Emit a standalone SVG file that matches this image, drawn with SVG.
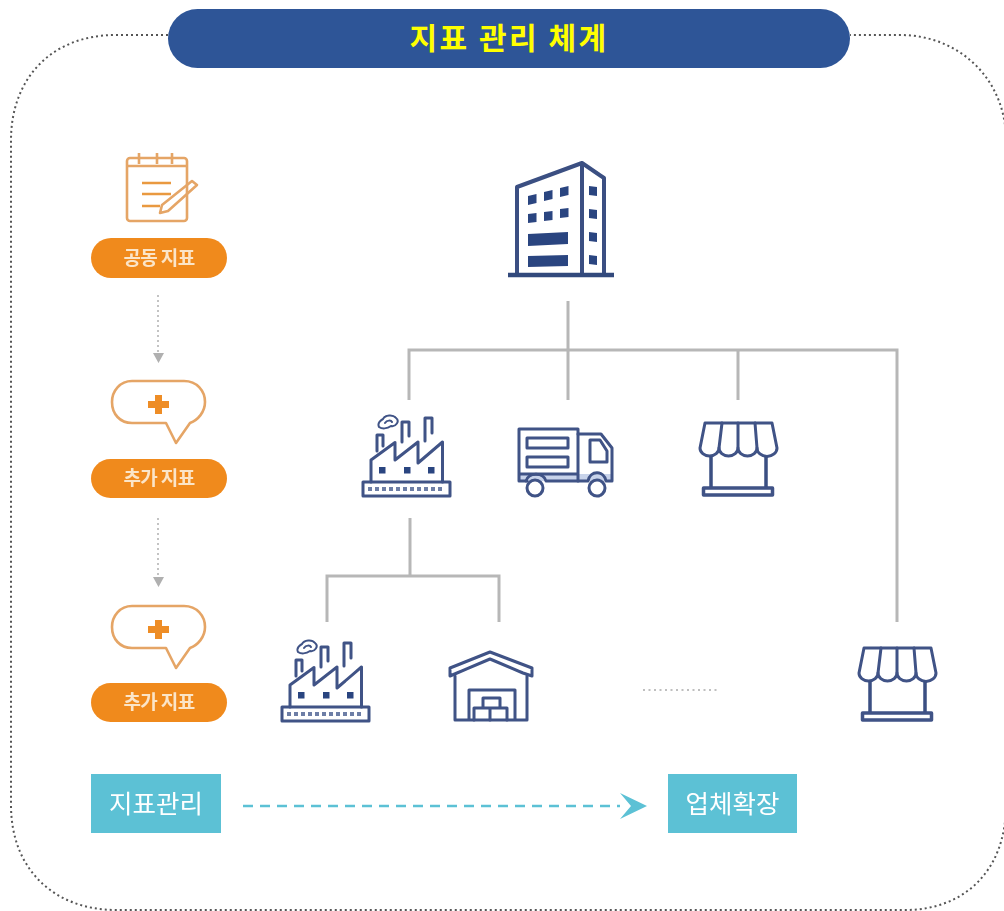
<svg xmlns="http://www.w3.org/2000/svg" width="1004" height="911" viewBox="0 0 1004 911">
<style>
.kr{font-family:"Noto Sans CJK KR","Liberation Sans",sans-serif;text-anchor:middle}
.navy{fill:none;stroke:#3a4f82;stroke-width:3.500;stroke-linejoin:round}
.thin{fill:none;stroke:#3f5286;stroke-width:3;stroke-linejoin:round;stroke-linecap:round}
.nf{fill:#2c4580}
.or{fill:none;stroke:#e5a566;stroke-width:2.600;stroke-linejoin:round}
.pill{fill:#f08a1f}
.pt{font-size:19px;font-weight:700;fill:#fbe5c8;letter-spacing:-.6px}
.conn{fill:none;stroke:#b7b7b7;stroke-width:3}
.dot{fill:none;stroke:#b5b5b5;stroke-width:1.600;stroke-dasharray:2 3}
.tag{fill:#5cc1d5}
.tt{font-size:25.500px;fill:#fff}
</style>
<defs>
<filter id="soft" x="-10%" y="-10%" width="120%" height="120%"><feGaussianBlur stdDeviation="0.7"/></filter>
<g id="factory">
<path class="thin" d="M21 77V55L45 37.500V55L68 37V58L92.500 37V77"/>
<path class="thin" d="M27 46V30H33V41M52 37V17H59V31M75 36V13H82V28"/>
<rect class="thin" x="13" y="77" width="87" height="14"/>
<path d="M18 84H94" fill="none" stroke="#6d7ea6" stroke-width="4" stroke-dasharray="4 3"/>
<rect class="nf" x="29" y="62" width="6.500" height="6.500"/><rect class="nf" x="54" y="62" width="6.500" height="6.500"/><rect class="nf" x="78" y="62" width="6.500" height="6.500"/>
<path class="thin" style="stroke-width:2" d="M29 22C27 18 31 15 33 14C35 10 43 9 46 13C50 16 46 22 41 21C37 24 32 24 29 22ZM35 18C37 15 41 15 42 17"/>
</g>
<g id="store">
<path class="thin" d="M15 8H82L87 33A9.500 8 0 0 1 67 33A9.500 8 0 0 1 48 33A9.500 8 0 0 1 29 33A9.500 8 0 0 1 10 33Z"/>
<path class="thin" d="M32 8L29 33M48 8V33M65 8L67 33"/>
<path class="navy" d="M21 41V72M76 41V72"/>
<rect class="thin" x="13.500" y="73" width="69" height="7" style="stroke-width:3.500"/>
</g>
<g id="bubble">
<path class="or" d="M132 381H184C197 381 205 391 205 402C205 412 198 420 190 423L176 443L166 423H132C120 423 112 414 112 402C112 391 120 381 132 381Z"/>
<path d="M155 395H162V401H169V408H162V414H155V408H148V401H155Z" fill="#ee8d28"/>
</g>
</defs>
<path id="frame" d="M168 35H116C50 35 11 80 11 140V805C11 870 55 910 116 910H905C965 910 1006 870 1006 805V140C1006 80 960 35 900 35H850" fill="none" stroke="#555" stroke-width="2" stroke-dasharray="2 3"/>
<g id="title"><rect x="168" y="9" width="682" height="59" rx="29.500" fill="#2e5597"/><text class="kr" x="509" y="49" font-size="30" font-weight="700" fill="#ffff00" letter-spacing="2.500">지표 관리 체계</text></g>
<g id="connectors">
<path class="conn" d="M568 301V400M409 400V350H897V622M738 350V400"/>
<path class="conn" d="M410 518V576M327 622V576H499V622"/>
<path class="dot" d="M158 295V352M158 518V576"/>
<path d="M153 353H164L158.500 363ZM153 577H164L158.500 587Z" fill="#b0b0b0"/>
<path d="M243 806H620" fill="none" stroke="#5cc1d5" stroke-width="2.500" stroke-dasharray="10 7"/>
<path d="M620 793L647 806L620 819L631 806Z" fill="#5cc1d5"/>
</g>
<g filter="url(#soft)">
<g id="node-note">
<rect class="or" x="127" y="158" width="60" height="63" rx="3"/>
<path class="or" d="M127 166H187M139 153V164M157 153V164M172 153V164"/>
<path d="M142 183H171M142 194H171M142 206H160" fill="none" stroke="#e9993f" stroke-width="2.400"/>
<path class="or" d="M160 213L162 205L192 181L197 185L168 211Z" fill="#fff"/>
</g>
<g id="pill-1"><rect class="pill" x="91" y="238" width="136" height="40" rx="20"/><text class="kr pt" x="159" y="265">공동 지표</text></g>
<g id="bubble-1"><use href="#bubble"/></g>
<g id="pill-2"><rect class="pill" x="91" y="459" width="136" height="39" rx="19.500"/><text class="kr pt" x="159" y="485">추가 지표</text></g>
<g id="bubble-2"><use href="#bubble" y="225"/></g>
<g id="pill-3"><rect class="pill" x="91" y="683" width="136" height="39" rx="19.500"/><text class="kr pt" x="159" y="709">추가 지표</text></g>
<g id="node-building">
<path class="navy" d="M517 275V187L582 163L604 178V275M582 163V275" style="stroke-width:4"/>
<path d="M508 275H614" stroke="#33497c" stroke-width="4.500" fill="none"/>
<path class="nf" d="M528 196l8.500-2v9l-8.500 2zM544 192l8.500-2v9l-8.500 2zM560 188l8.500-2v9l-8.500 2zM528 214l8.500-1v9l-8.500 1zM544 212l8.500-1v9l-8.500 1zM560 209l8.500-1v9l-8.500 1zM528 234L568 232V244L528 246ZM528 256L568 255V266L528 267ZM589 186l8 1v9l-8-1zM589 209l8 1v9l-8-1zM589 232l8 1v9l-8-1zM589 255l8 1v9l-8-1z"/>
</g>
<g id="node-factory-1"><use href="#factory" transform="translate(350 405)"/></g>
<g id="node-truck">
<path d="M519 474H578L612 474V481H519Z" fill="#c8d3ea"/>
<path class="thin" d="M578 481V429H519V481H527M519 474H578"/>
<path class="thin" d="M578 434H601L612 448V481H606C604 470 590 470 588 481H546C544 472 528 472 526 481"/>
<rect class="thin" x="527" y="438" width="41" height="10"/><rect class="thin" x="527" y="457" width="41" height="10"/>
<path class="thin" d="M590 440H600L607 451V462H590Z"/>
<circle class="thin" cx="535" cy="488" r="8" fill="#fff"/><circle class="thin" cx="597" cy="488" r="8"/>
</g>
<g id="node-store-1"><use href="#store" transform="translate(690 415)"/></g>
<g id="node-factory-2"><use href="#factory" transform="translate(269 630)"/></g>
<g id="node-warehouse">
<path class="thin" d="M450 668L490 652L532 668V676L523 673L490 659L457 673L450 676Z"/>
<path class="thin" d="M455 676V720H527V676M469 720V690H515V720"/>
<path class="thin" d="M483 708V698H500V708M474 720V708H507V720M490 708V720"/>
</g>
<g id="node-store-2"><use href="#store" transform="translate(849 640)"/></g>
</g>
<path id="ellipsis" d="M643 690H718" fill="none" stroke="#aaa" stroke-width="1.600" stroke-dasharray="2 3.500"/>
<g id="tag-1"><rect class="tag" x="91" y="774" width="130" height="59"/><text class="kr tt" x="156" y="813">지표관리</text></g>
<g id="tag-2"><rect class="tag" x="668" y="774" width="129" height="59"/><text class="kr tt" x="732.500" y="813">업체확장</text></g>
</svg>
